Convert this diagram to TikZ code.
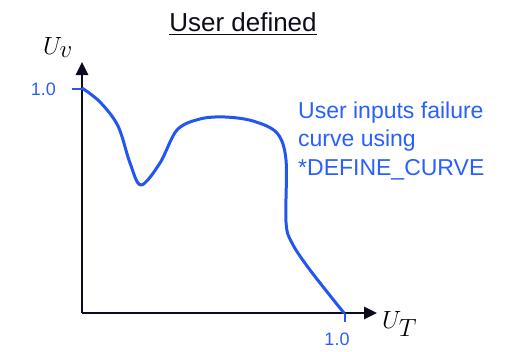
\documentclass[tikz,border=0pt]{standalone}
\usepackage{amsmath}
\usepackage{fontspec}
\setmainfont{Liberation Sans}
\usetikzlibrary{arrows.meta,calc}
\definecolor{curveblue}{RGB}{35,85,240}
\definecolor{textblue}{RGB}{42,95,255}
\definecolor{axisnavy}{RGB}{12,12,30}
\begin{document}
\begin{tikzpicture}[x=1pt,y=-1pt,
    axis/.style={draw=axisnavy,line width=2.6pt,-{Triangle[length=13pt,width=12pt]}},
    tick/.style={draw=curveblue,line width=1.6pt},
    ticklabel/.style={text=textblue,font=\fontsize{18}{20}\selectfont,inner sep=0pt},
    axislabel/.style={font=\fontsize{25}{28}\selectfont,inner sep=0pt}]
\useasboundingbox (0,0) rectangle (514,351);
\coordinate (O) at (82,313);
\coordinate (ytop) at (82,62);
\coordinate (xtip) at (377,313);
\coordinate (yone) at (82,89);
\coordinate (xone) at (345,313);
\node[font=\fontsize{26}{30}\selectfont,text=axisnavy,anchor=base,inner sep=0pt] (title) at (243,31) {\underline{User defined}};
\draw[axis] (O) -- (ytop);
\draw[axis] (O) -- (xtip);
\draw[tick] (yone) -- ++(-10,0) coordinate (ytick);
\draw[tick] (xone) -- ++(0,9) coordinate (xtick);
\node[ticklabel,anchor=east] (ylab) at ($(ytick)+(-16,0)$) {1.0};
\node[ticklabel,anchor=base] (xlab) at (337,345) {1.0};
\node[axislabel,anchor=base] (uv) at (58,54) {$U_{\textstyle v}$};
\node[axislabel,anchor=base west] (ut) at (382,328) {$U_{\textstyle T}$};
\draw[curveblue,line width=3pt,line join=round] plot[smooth,tension=0.55] coordinates {
    (82,88) (100,102) (118,126) (130,163) (141,185) (160,163) (177,130) (200,119)
    (225,117) (253,121) (277,133) (286,160) (286,222) (292,243) (310,270) (344,313)};
\node[text=textblue,font=\fontsize{23}{28.5}\selectfont,align=left,anchor=base west,inner sep=0pt] (note) at (298,175) {User inputs failure\\curve using\\*DEFINE\_CURVE};
\end{tikzpicture}
\end{document}
